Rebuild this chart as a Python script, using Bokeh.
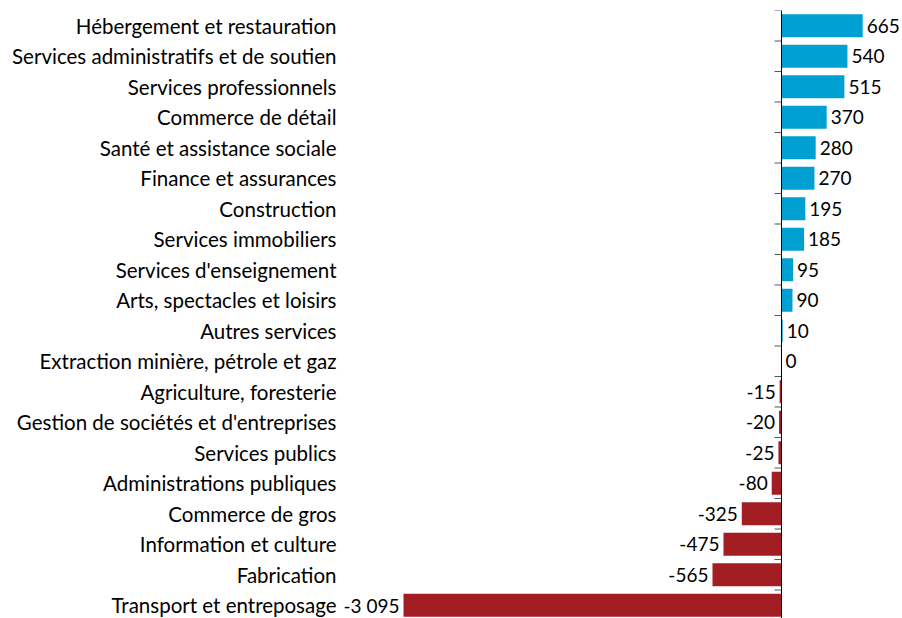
from bokeh.plotting import figure
from bokeh.models import ColumnDataSource, FixedTicker, Range1d, Span
from bokeh.core.properties import value
from bokeh.embed import file_html
from bokeh.resources import INLINE

categories = [
    "Hébergement et restauration",
    "Services administratifs et de soutien",
    "Services professionnels",
    "Commerce de détail",
    "Santé et assistance sociale",
    "Finance et assurances",
    "Construction",
    "Services immobiliers",
    "Services d'enseignement",
    "Arts, spectacles et loisirs",
    "Autres services",
    "Extraction minière, pétrole et gaz",
    "Agriculture, foresterie",
    "Gestion de sociétés et d'entreprises",
    "Services publics",
    "Administrations publiques",
    "Commerce de gros",
    "Information et culture",
    "Fabrication",
    "Transport et entreposage",
]
values = [665, 540, 515, 370, 280, 270, 195, 185, 95, 90, 10, 0,
          -15, -20, -25, -80, -325, -475, -565, -3095]

FONT = "Lato"
CAT_FS = "20.5px"
VAL_FS = "19px"
BLUE = "#00A0D3"
RED = "#A31E23"

W, H = 902, 620
BL, BR, BT, BB = 342, 2, 10, 0
XS, XE = -3594.5, 974.5

n = len(categories)
ys = [n - i - 0.5 for i in range(n)]
labels = [f"{v:,}".replace(",", " ") for v in values]
colors = [BLUE if v >= 0 else RED for v in values]

p = figure(width=W, height=H,
           x_range=Range1d(XS, XE), y_range=Range1d(0, n),
           output_backend="svg", toolbar_location=None,
           x_axis_location=None,
           min_border_left=BL, min_border_right=BR,
           min_border_top=BT, min_border_bottom=BB)
p.outline_line_color = None
p.grid.visible = False

src = ColumnDataSource(dict(y=ys, v=values, c=colors, lbl=labels))
p.hbar(y="y", left=0, right="v", height=0.75, fill_color="c",
       line_color=None, source=src)

pos = ColumnDataSource(dict(y=[y for y, v in zip(ys, values) if v >= 0],
                            v=[v for v in values if v >= 0],
                            lbl=[l for l, v in zip(labels, values) if v >= 0]))
neg = ColumnDataSource(dict(y=[y for y, v in zip(ys, values) if v < 0],
                            v=[v for v in values if v < 0],
                            lbl=[l for l, v in zip(labels, values) if v < 0]))
p.text(x="v", y="y", text="lbl", source=pos, text_align="left",
       text_baseline="middle", x_offset=4, text_font=value(FONT),
       text_font_size=VAL_FS, text_color="#000000")
p.text(x="v", y="y", text="lbl", source=neg, text_align="right",
       text_baseline="middle", x_offset=-4, text_font=value(FONT),
       text_font_size=VAL_FS, text_color="#000000")

# category axis (labels only)
yax = p.yaxis[0]
yax.ticker = FixedTicker(ticks=ys)
yax.major_label_overrides = {y: c for y, c in zip(ys, categories)}
yax.axis_line_color = None
yax.major_tick_line_color = None
yax.major_tick_out = 0
yax.major_tick_in = 0
yax.minor_tick_line_color = None
yax.major_label_standoff = 6
yax.major_label_text_font = FONT
yax.major_label_text_font_size = CAT_FS
yax.major_label_text_color = "#000000"

# zero axis line with ticks between categories
p.add_layout(Span(location=0, dimension="height", line_color="#000000",
                  line_width=1))
tick_len = 7 * (XE - XS) / (W - BL - BR)
bounds = list(range(n + 1))
p.segment(x0=[-tick_len] * len(bounds), x1=[0] * len(bounds),
          y0=bounds, y1=bounds, line_color="#595959", line_width=1.2)

open("out.html", "w").write(file_html(p, INLINE))
